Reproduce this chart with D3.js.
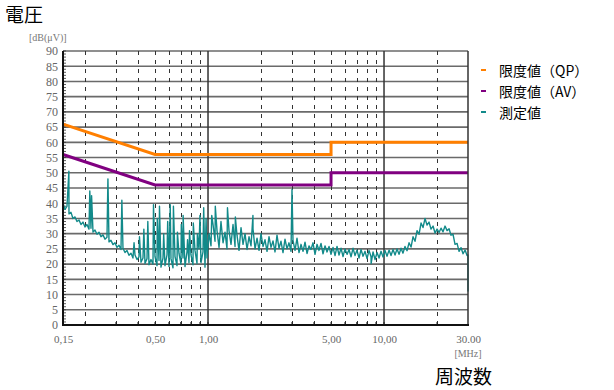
<!DOCTYPE html>
<html><head><meta charset="utf-8">
<script src="https://cdn.jsdelivr.net/npm/d3@7"></script>
<style>body{margin:0;background:#fff}svg{display:block}</style>
</head><body>
<svg id="c" width="614" height="390"></svg>
<script>
// ---- data ----
const dbTicks = [0,5,10,15,20,25,30,35,40,45,50,55,60,65,70,75,80,85,90];
const freqTicks = [0.15,0.5,1,5,10,30];
const freqTickLabels = ["0,15","0,50","1,00","5,00","10,00","30.00"];
const dashedGridFreqs = [0.2,0.3,0.4,0.5,0.6,0.7,0.8,0.9,2,3,4,5,6,7,8,9,20];
const solidGridFreqs = [1,10];
const limitFreq = [0.15,0.5,5,5,30];
const limitQP = [66,56,56,60,60];
const limitAV = [56,46,46,50,50];
const seriesNames = ["限度値（QP）","限度値（AV）","測定値"];
const seriesColors = ["#ff7f00","#800080","#128a8a"];
const measured = [
[0.1500,40],[0.1540,38],[0.1580,39],[0.162,50.5],[0.1622,36.5],[0.1665,37],[0.1709,35],[0.1755,35.5],
[0.1801,34],[0.1849,34.5],[0.1898,33],[0.1948,33.8],[0.2000,32.2],[0.2053,33],[0.2107,31.5],[0.213,44],
[0.2163,31.8],[0.218,42.5],[0.2221,30.5],[0.2279,31.2],[0.2340,29.8],[0.2402,30.5],[0.2466,29],[0.2531,29.6],
[0.2598,28.2],[0.2667,28.8],[0.270,48],[0.2738,27.3],[0.2810,27.8],[0.2885,26.4],[0.2961,27],[0.3040,25.5],
[0.3120,26.2],[0.3203,24.8],[0.324,41],[0.3288,25.2],[0.3375,23.8],[0.3465,24.5],[0.3556,22.9],[0.3651,23.6],
[0.3747,22],[0.380,27],[0.3847,23],[0.3949,21.5],[0.4053,22.4],[0.408,29],[0.4161,20.6],[0.4271,22],
[0.432,31.5],[0.4384,20.2],[0.4501,21.8],[0.455,34],[0.4620,19.8],[0.4742,21.5],[0.4868,20],[0.490,39.5],
[0.4997,22.5],[0.5130,19.5],[0.515,35],[0.5266,21.2],[0.530,39],[0.5405,19],[0.5549,22],[0.560,30],
[0.5696,19.5],[0.5847,23],[0.590,34],[0.6002,19.2],[0.610,39.5],[0.6161,21.8],[0.6324,18.8],[0.636,39],
[0.6492,22.5],[0.6664,19.5],[0.670,30.5],[0.6841,23.5],[0.7022,20],[0.705,33],[0.7208,22],[0.722,36],
[0.7399,19.2],[0.7595,24],[0.765,28],[0.7797,20.5],[0.785,31],[0.8003,23],[0.8215,19.8],[0.825,33.5],
[0.8433,24.5],[0.8657,20.2],[0.870,30],[0.8886,25],[0.900,36],[0.9122,20.5],[0.9364,24],[0.945,38.5],
[0.9612,19],[0.975,35],[0.9867,22],[1.013,30],[1.040,26],[1.05,36],[1.068,33],[1.096,27.5],[1.10,39],
[1.125,31],[1.155,25.5],[1.185,34],[1.217,27],[1.249,30.5],[1.282,25],[1.29,38.5],[1.316,31],[1.351,26.5],
[1.387,33],[1.424,25.8],[1.43,35.5],[1.461,29.5],[1.500,24.5],[1.540,32],[1.581,26.5],[1.623,30],[1.666,24.8],
[1.710,29],[1.755,26],[1.80,36],[1.802,31.5],[1.850,25],[1.899,28.5],[1.949,24.5],[2.000,30],[2.053,25.8],
[2.108,28],[2.164,24.2],[2.221,29],[2.280,25.5],[2.340,27.6],[2.402,24],[2.466,29.5],[2.531,25.2],[2.598,27.5],
[2.667,23.8],[2.738,28.2],[2.811,25],[2.885,27],[2.962,24.2],[3.00,44.5],[3.040,27.8],[3.121,24.5],[3.204,28.5],
[3.289,23.8],[3.376,26.5],[3.466,24.2],[3.557,27.2],[3.652,23.5],[3.748,26],[3.848,24.8],[3.950,27],[4.054,23.2],
[4.162,26.5],[4.272,24.5],[4.386,26.8],[4.502,23.4],[4.621,26],[4.744,24],[4.870,25.8],[4.999,23.2],[5.132,25.5],
[5.268,22.8],[5.407,25.8],[5.551,23],[5.698,25.2],[5.849,22.5],[6.004,25],[6.164,23.2],[6.327,24.8],[6.495,22.4],
[6.667,25.2],[6.844,22.8],[7.025,24.6],[7.212,22],[7.403,24.8],[7.599,22.6],[7.801,24.2],[8.008,21.8],[8.220,24.5],
[8.438,22.4],[8.45,20.2],[8.662,24],[8.892,21.5],[9.128,23.8],[9.370,22],[9.618,24.2],[9.873,22.3],[10.13,24.5],
[10.40,22.6],[10.68,24.6],[10.96,22.8],[11.25,24.8],[11.55,23],[11.86,25],[12.17,23.2],[12.49,25.2],[12.82,23.6],
[13.16,25.8],[13.51,24.4],[13.87,27],[14.24,25.6],[14.62,29],[15.00,27.5],[15.40,31],[15.81,29.8],[16.23,33.5],
[16.66,32],[17.10,35],[17.55,32.8],[18.02,33.8],[18.49,31.5],[18.99,32.5],[19.49,30.2],[20.01,31.5],[20.54,30.4],
[21.08,31.8],[21.64,30.6],[22.22,32.5],[22.81,31],[23.41,31.6],[24.03,29.5],[24.67,29.8],[25.32,26.5],[26.00,26.8],
[26.69,24.2],[27.39,25.4],[28.12,23.4],[28.87,24.6],[29.63,22.8],[29.99,23],[30.0,11]
];

// ---- chart ----
const svg = d3.select("#c");
svg.append("rect").attr("width",614).attr("height",390).attr("fill","#fff");
const x = d3.scaleLog().domain([0.15,30]).range([63,468]);
const y = d3.scaleLinear().domain([0,90]).range([325,51]);
const serif = "'Liberation Serif','DejaVu Serif',serif";
const cjk = "'Noto Sans CJK JP','Noto Sans',sans-serif";

// horizontal grid
svg.append("g").selectAll("line").data(dbTicks).join("line")
  .attr("x1",x(0.15)).attr("x2",x(30)).attr("y1",d=>y(d)).attr("y2",d=>y(d))
  .attr("stroke","#6a6a6a").attr("stroke-width",1.6);
// vertical dashed grid
svg.append("g").selectAll("line").data(dashedGridFreqs).join("line")
  .attr("x1",d=>Math.round(x(d))+0.5).attr("x2",d=>Math.round(x(d))+0.5).attr("y1",y(90)).attr("y2",y(0))
  .attr("stroke","#333").attr("stroke-width",1).attr("stroke-dasharray","4,5");
// vertical solid grid
svg.append("g").selectAll("line").data(solidGridFreqs).join("line")
  .attr("x1",d=>x(d)).attr("x2",d=>x(d)).attr("y1",y(90)).attr("y2",y(0))
  .attr("stroke","#333").attr("stroke-width",1.5);

// y minor ticks
const minorDb = d3.range(0,91,1);
svg.append("g").selectAll("line").data(minorDb).join("line")
  .attr("x1",x(0.15)).attr("x2",x(0.15)+3).attr("y1",d=>y(d)).attr("y2",d=>y(d))
  .attr("stroke","#333").attr("stroke-width",0.8);
// x minor ticks
const minorF = [0.2,0.3,0.4,0.5,0.6,0.7,0.8,0.9,1,2,3,4,5,6,7,8,9,10,20];
svg.append("g").selectAll("line").data(minorF).join("line")
  .attr("x1",d=>x(d)).attr("x2",d=>x(d)).attr("y1",y(0)).attr("y2",y(0)-3)
  .attr("stroke","#222").attr("stroke-width",1);

// measured trace
const line = d3.line().x(d=>x(d[0])).y(d=>y(d[1]));
svg.append("path").datum(measured).attr("d",line).attr("fill","none")
  .attr("stroke",seriesColors[2]).attr("stroke-width",1.4).attr("stroke-linejoin","round");

// limits
const lim = vals => limitFreq.map((f,i)=>[f,vals[i]]);
svg.append("path").datum(lim(limitQP)).attr("d",line).attr("fill","none")
  .attr("stroke",seriesColors[0]).attr("stroke-width",3);
svg.append("path").datum(lim(limitAV)).attr("d",line).attr("fill","none")
  .attr("stroke",seriesColors[1]).attr("stroke-width",3);

// frame
svg.append("line").attr("x1",x(30)).attr("x2",x(30)).attr("y1",y(90)).attr("y2",y(0)).attr("stroke","#333").attr("stroke-width",1.5);
svg.append("line").attr("x1",x(0.15)).attr("x2",x(0.15)).attr("y1",y(90)).attr("y2",y(0)+1).attr("stroke","#111").attr("stroke-width",2);
svg.append("line").attr("x1",x(0.15)-1).attr("x2",x(30)+1).attr("y1",y(0)).attr("y2",y(0)).attr("stroke","#111").attr("stroke-width",2);

// axes labels via d3 axes
const yAxis = d3.axisLeft(y).tickValues(dbTicks).tickSize(0).tickPadding(0).tickFormat(d3.format("d"));
const gy = svg.append("g").attr("transform",`translate(${x(0.15)-5},0)`).call(yAxis);
gy.select(".domain").remove();
gy.selectAll("text").attr("font-family",serif).attr("font-size",12).attr("fill","#666");

const xAxis = d3.axisBottom(x).tickValues(freqTicks).tickSize(0).tickPadding(0)
  .tickFormat((d,i)=>freqTickLabels[i]);
const gx = svg.append("g").attr("transform",`translate(0,${y(0)+10})`).call(xAxis);
gx.select(".domain").remove();
gx.selectAll("text").attr("font-family",serif).attr("font-size",11).attr("fill","#666");

// titles
svg.append("text").attr("x",5).attr("y",22).text("電圧")
  .attr("font-family",cjk).attr("font-size",19).attr("fill","#000");
svg.append("text").attr("x",29).attr("y",41).text("[dB(μV)]")
  .attr("font-family",serif).attr("font-size",10).attr("fill","#777");
svg.append("text").attr("x",468).attr("y",357).attr("text-anchor","middle").text("[MHz]")
  .attr("font-family",serif).attr("font-size",10).attr("fill","#777");
svg.append("text").attr("x",435).attr("y",384).text("周波数")
  .attr("font-family",cjk).attr("font-size",19).attr("fill","#000");

// legend
const lg = svg.append("g");
seriesNames.forEach((n,i)=>{
  const cy = 70 + i*21;
  lg.append("line").attr("x1",481).attr("x2",486).attr("y1",cy).attr("y2",cy)
    .attr("stroke",seriesColors[i]).attr("stroke-width",2);
  lg.append("text").attr("x",499).attr("y",cy).attr("dominant-baseline","central").text(n)
    .attr("font-family",cjk).attr("font-size",14).attr("fill","#000");
});
</script>
</body></html>
